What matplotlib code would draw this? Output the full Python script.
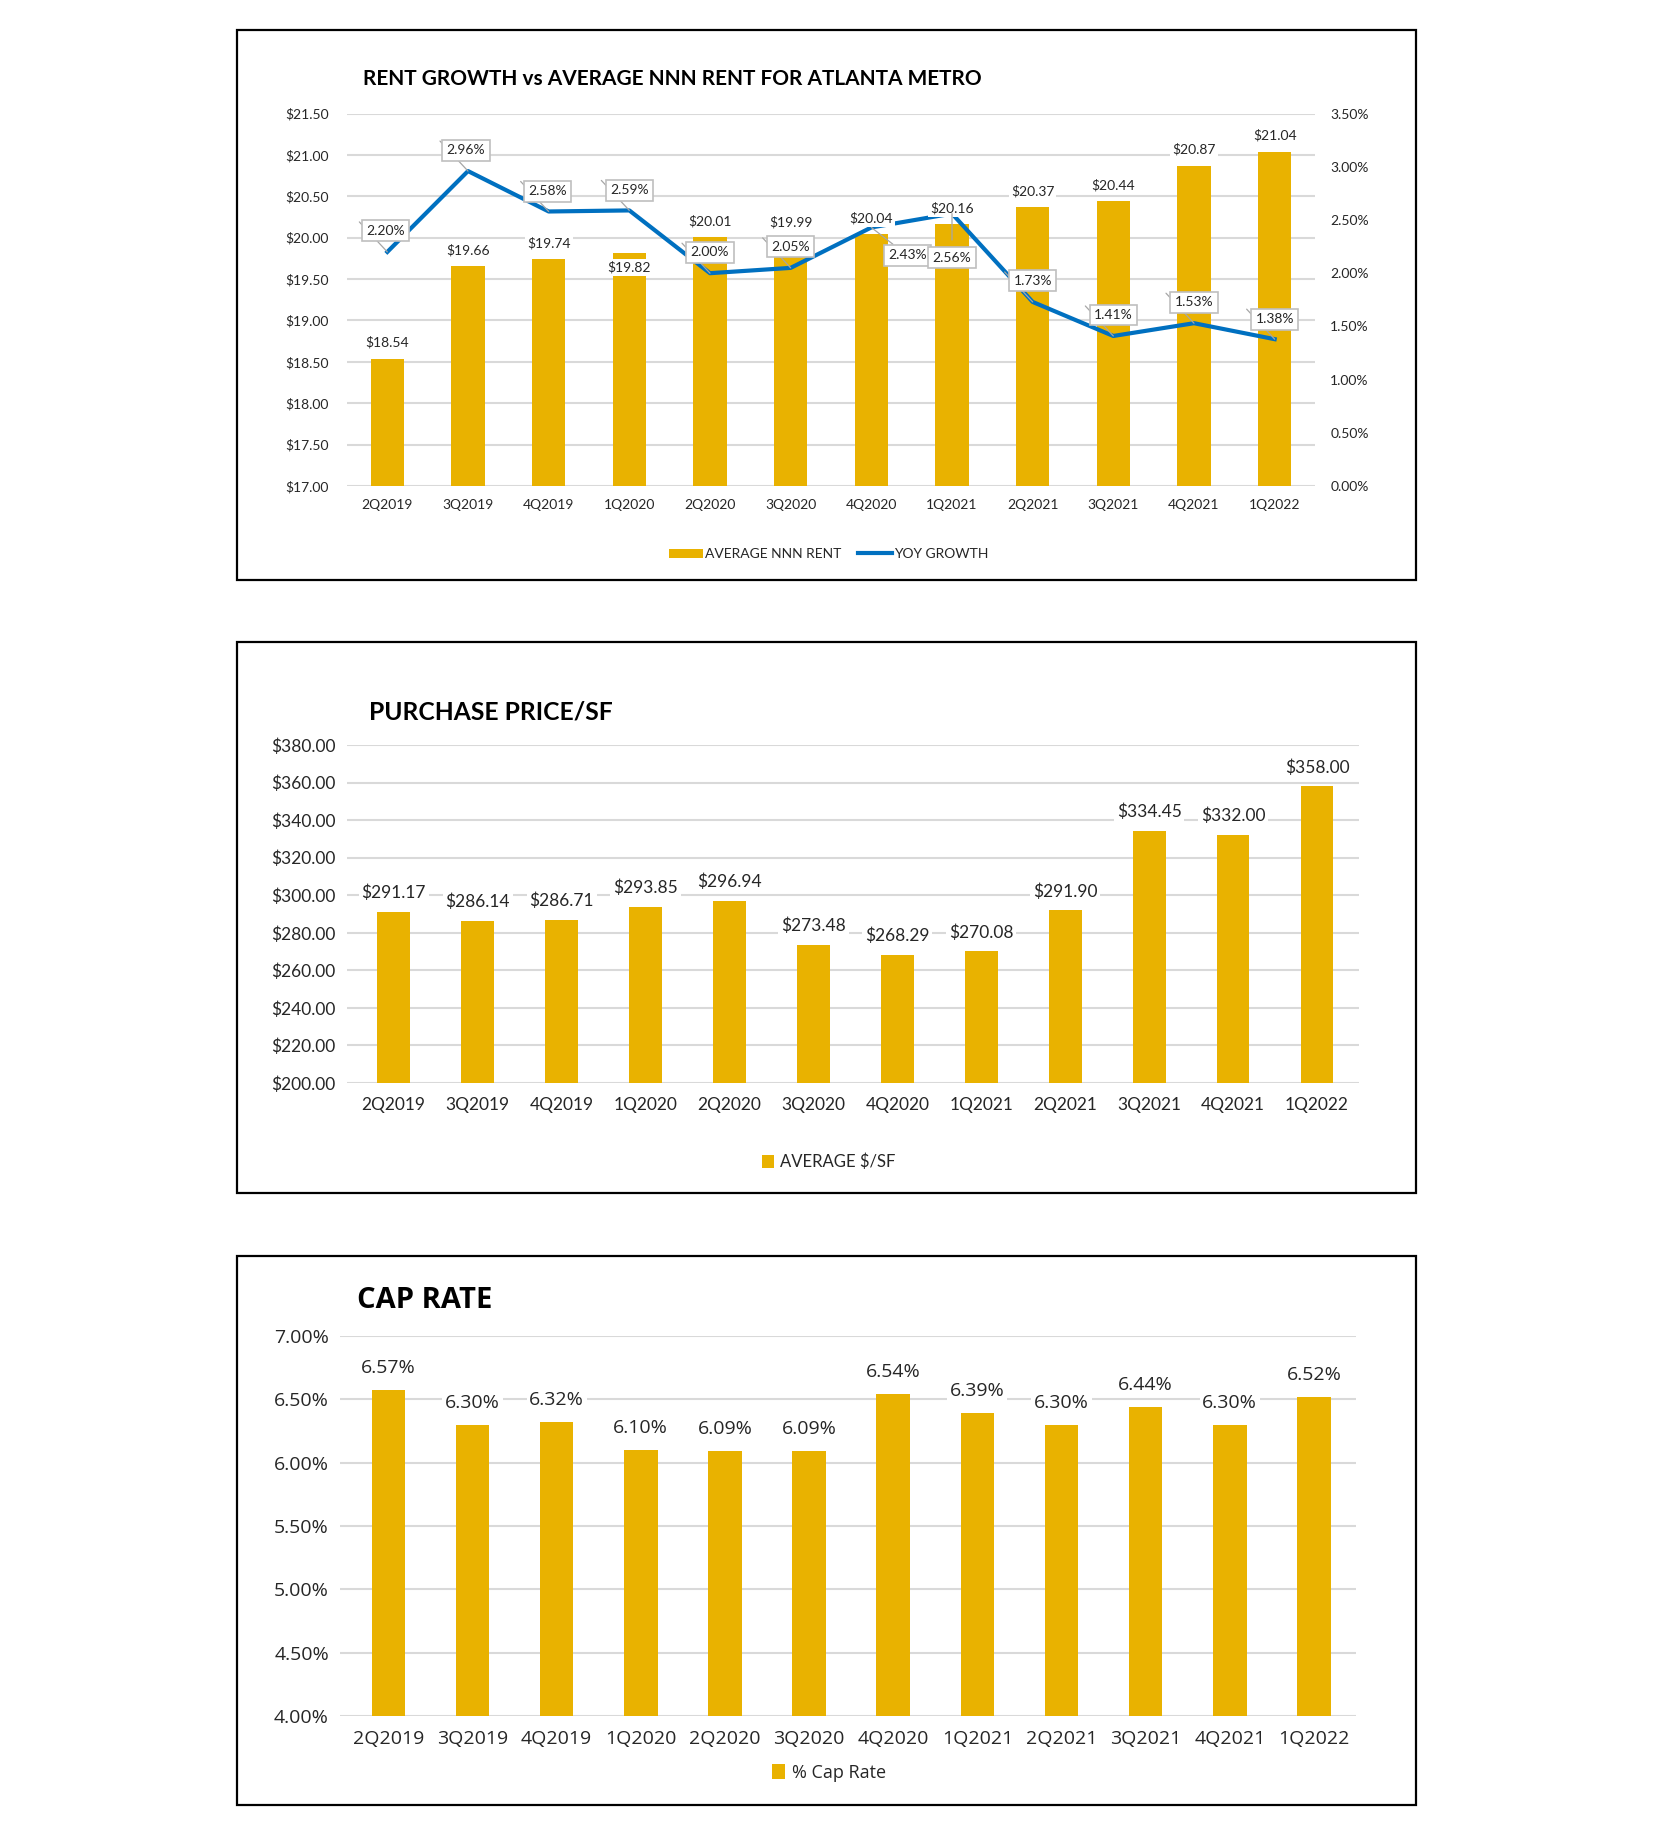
import matplotlib
matplotlib.use("Agg")
import matplotlib.pyplot as plt
from matplotlib.patches import Rectangle, Patch
from matplotlib.lines import Line2D
from matplotlib.ticker import FuncFormatter, MultipleLocator

# ---------------- DATA ----------------
quarters = ["2Q2019", "3Q2019", "4Q2019", "1Q2020", "2Q2020", "3Q2020",
            "4Q2020", "1Q2021", "2Q2021", "3Q2021", "4Q2021", "1Q2022"]
nnn_rent = [18.54, 19.66, 19.74, 19.82, 20.01, 19.99, 20.04, 20.16,
            20.37, 20.44, 20.87, 21.04]
yoy_growth = [2.20, 2.96, 2.58, 2.59, 2.00, 2.05, 2.43, 2.56, 1.73,
              1.41, 1.53, 1.38]
price_sf = [291.17, 286.14, 286.71, 293.85, 296.94, 273.48, 268.29,
            270.08, 291.90, 334.45, 332.00, 358.00]
cap_rate = [6.57, 6.30, 6.32, 6.10, 6.09, 6.09, 6.54, 6.39, 6.30,
            6.44, 6.30, 6.52]

# ---------------- STYLE / LAYOUT ----------------
W, H = 1653, 1837
GOLD = "#E9B200"
BLUE = "#0070C0"
GRID = "#D9D9D9"
TXT = "#262626"
F1 = "Lato"
F3 = "Open Sans"

# label offsets in pixels (layout only)
bar1_off = [16, 16, 16, -15, 16, 16, 16, 16, 16, 16, 16, 16]
line_off = [(-2, 21), (-2, 21), (-1, 20), (0, 20), (0, 21), (0, 21),
            (36, -28), (0, -44), (0, 21), (0, 21), (0, 21), (0, 20)]

PX2PT = 72.0 / 100.0

fig = plt.figure(figsize=(W / 100, H / 100), dpi=100)
fig.patch.set_facecolor("white")


def rect(l, t, r, b):
    return [l / W, 1 - b / H, (r - l) / W, (b - t) / H]


def frame(l, t, r, b):
    fig.patches.append(Rectangle((l / W, 1 - b / H), (r - l) / W, (b - t) / H,
                                 transform=fig.transFigure, fill=False,
                                 edgecolor="black", linewidth=1.6, zorder=10))


def style_ax(ax):
    for s in ax.spines.values():
        s.set_visible(False)
    ax.grid(axis="y", color=GRID, linewidth=1.5, zorder=0)
    ax.set_axisbelow(True)
    ax.tick_params(length=0)


x = list(range(len(quarters)))

# ================= PANEL 1 =================
frame(237, 30, 1416, 580)
ax1 = fig.add_axes(rect(347, 113.6, 1315, 486))
style_ax(ax1)
ax1.bar(x, [v - 17 for v in nnn_rent], bottom=17, width=0.41, color=GOLD, zorder=2)
ax1.set_ylim(17, 21.5)
ax1.set_xlim(-0.5, len(quarters) - 0.5)
ax1.yaxis.set_major_locator(MultipleLocator(0.5))
ax1.yaxis.set_major_formatter(FuncFormatter(lambda v, p: f"${v:.2f}"))
ax1.set_xticks(x)
ax1.set_xticklabels(quarters)
ax1.tick_params(axis="y", pad=13, labelsize=10, labelcolor=TXT)
ax1.tick_params(axis="x", pad=9, labelsize=10, labelcolor=TXT)
for lab in ax1.get_xticklabels() + ax1.get_yticklabels():
    lab.set_fontfamily(F1)

ax1r = ax1.twinx()
for s in ax1r.spines.values():
    s.set_visible(False)
ax1r.set_ylim(0, 3.5)
ax1r.yaxis.set_major_locator(MultipleLocator(0.5))
ax1r.yaxis.set_major_formatter(FuncFormatter(lambda v, p: f"{v:.2f}%"))
ax1r.tick_params(length=0, pad=11, labelsize=10, labelcolor=TXT)
for lab in ax1r.get_yticklabels():
    lab.set_fontfamily(F1)
ax1r.plot(x, yoy_growth, color=BLUE, linewidth=3.0, zorder=3,
          solid_joinstyle="round")

# bar labels (on twin axes so they sit above the line)
for xi, v, off in zip(x, nnn_rent, bar1_off):
    yv = (v - 17) / 4.5 * 3.5
    ax1r.annotate(f"${v:.2f}", (xi, yv), xytext=(0, off * PX2PT),
                  textcoords="offset points", ha="center", va="center",
                  fontsize=10, fontfamily=F1, color=TXT, zorder=5,
                  bbox=dict(facecolor="white", edgecolor="none", pad=1.5))

# line callouts
for xi, v, (dx, dy) in zip(x, yoy_growth, line_off):
    if dy > 0:
        ax1r.annotate("", (xi, v), xytext=(-28 * PX2PT, 30 * PX2PT),
                      textcoords="offset points", zorder=6,
                      arrowprops=dict(arrowstyle="-", color="#A6A6A6", lw=0.9,
                                      shrinkA=0, shrinkB=0))
    else:
        ax1r.annotate("", (xi, v), xytext=(dx * PX2PT * 0.6, dy * PX2PT * 0.6),
                      textcoords="offset points", zorder=6,
                      arrowprops=dict(arrowstyle="-", color="#A6A6A6", lw=0.9,
                                      shrinkA=0, shrinkB=0))
    ax1r.annotate(f"{v:.2f}%", (xi, v), xytext=(dx * PX2PT, dy * PX2PT),
                  textcoords="offset points", ha="center", va="center",
                  fontsize=10, fontfamily=F1, color=TXT, zorder=7,
                  bbox=dict(facecolor="white", edgecolor="#BFBFBF",
                            linewidth=1.2, boxstyle="square,pad=0.32"))

fig.text(363 / W, 1 - 79 / H, "RENT GROWTH vs AVERAGE NNN RENT FOR ATLANTA METRO",
         fontsize=15, fontweight="bold", fontfamily=F1, color="black",
         ha="left", va="center")

h1 = [Patch(facecolor=GOLD, edgecolor="none"),
      Line2D([0], [0], color=BLUE, linewidth=3)]
fig.legend(h1, ["AVERAGE NNN RENT", "YOY GROWTH"], loc="center",
           bbox_to_anchor=(829 / W, 1 - 554 / H), ncol=2, frameon=False,
           prop=dict(family=F1, size=10), labelcolor=TXT,
           handlelength=2.4, handleheight=0.6, handletextpad=0.2,
           columnspacing=1.2)

# ================= PANEL 2 =================
frame(237, 642, 1416, 1193)
ax2 = fig.add_axes(rect(347, 745, 1359, 1083))
style_ax(ax2)
ax2.bar(x, [v - 200 for v in price_sf], bottom=200, width=0.39, color=GOLD, zorder=2)
ax2.set_ylim(200, 380)
ax2.set_xlim(-0.556, len(quarters) - 0.5)
ax2.yaxis.set_major_locator(MultipleLocator(20))
ax2.yaxis.set_major_formatter(FuncFormatter(lambda v, p: f"${v:.2f}"))
ax2.set_xticks(x)
ax2.set_xticklabels(quarters)
ax2.tick_params(axis="y", pad=8.5, labelsize=12.5, labelcolor=TXT)
ax2.tick_params(axis="x", pad=10, labelsize=12.5, labelcolor=TXT)
for lab in ax2.get_xticklabels() + ax2.get_yticklabels():
    lab.set_fontfamily(F1)
for xi, v in zip(x, price_sf):
    ax2.annotate(f"${v:.2f}", (xi, v), xytext=(0, 19 * PX2PT),
                 textcoords="offset points", ha="center", va="center",
                 fontsize=12.5, fontfamily=F1, color=TXT, zorder=5,
                 bbox=dict(facecolor="white", edgecolor="none", pad=2))
fig.text(369 / W, 1 - 712 / H, "PURCHASE PRICE/SF", fontsize=17.7,
         fontweight="bold", fontfamily=F1, color="black", ha="left", va="center")
fig.legend([Patch(facecolor=GOLD, edgecolor="none")], ["AVERAGE $/SF"],
           loc="center", bbox_to_anchor=(829 / W, 1 - 1162 / H), frameon=False,
           prop=dict(family=F1, size=12), labelcolor=TXT,
           handlelength=0.7, handleheight=0.9, handletextpad=0.4)

# ================= PANEL 3 =================
frame(237, 1256, 1416, 1805)
ax3 = fig.add_axes(rect(340, 1336, 1356, 1716))
style_ax(ax3)
ax3.bar(x, [v - 4 for v in cap_rate], bottom=4, width=0.4, color=GOLD, zorder=2)
ax3.set_ylim(4, 7)
ax3.set_xlim(-0.575, len(quarters) - 0.5)
ax3.yaxis.set_major_locator(MultipleLocator(0.5))
ax3.yaxis.set_major_formatter(FuncFormatter(lambda v, p: f"{v:.2f}%"))
ax3.set_xticks(x)
ax3.set_xticklabels(quarters)
ax3.tick_params(axis="y", pad=8, labelsize=14, labelcolor=TXT)
ax3.tick_params(axis="x", pad=10, labelsize=14, labelcolor=TXT)
for lab in ax3.get_xticklabels() + ax3.get_yticklabels():
    lab.set_fontfamily(F3)
for xi, v in zip(x, cap_rate):
    ax3.annotate(f"{v:.2f}%", (xi, v), xytext=(0, 22 * PX2PT),
                 textcoords="offset points", ha="center", va="center",
                 fontsize=14, fontfamily=F3, color=TXT, zorder=5,
                 bbox=dict(facecolor="white", edgecolor="none", pad=2))
fig.text(357 / W, 1 - 1301 / H, "CAP RATE", fontsize=21,
         fontweight="bold", fontfamily=F3, color="black", ha="left", va="center")
fig.legend([Patch(facecolor=GOLD, edgecolor="none")], ["% Cap Rate"],
           loc="center", bbox_to_anchor=(829 / W, 1 - 1773 / H), frameon=False,
           prop=dict(family=F3, size=13), labelcolor=TXT,
           handlelength=0.7, handleheight=0.9, handletextpad=0.4)

fig.savefig("out.png", dpi=100, facecolor="white")
